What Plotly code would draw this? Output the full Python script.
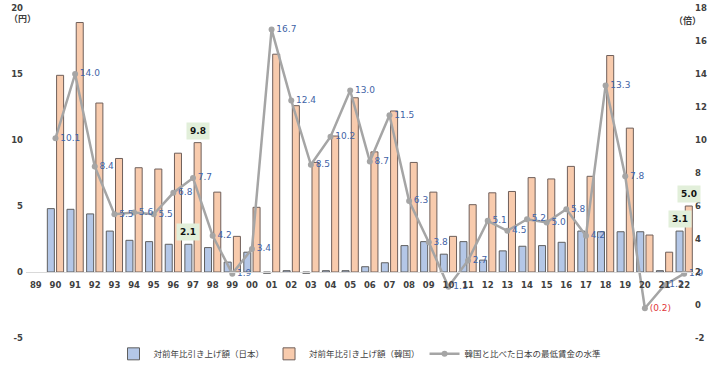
import plotly.graph_objects as go

# ---- data ----
years = ["89", "90", "91", "92", "93", "94", "95", "96", "97", "98", "99",
         "00", "01", "02", "03", "04", "05", "06", "07", "08", "09",
         "10", "11", "12", "13", "14", "15", "16", "17", "18", "19",
         "20", "21", "22"]
japan = [None, 4.8, 4.75, 4.4, 3.1, 2.4, 2.3, 2.1, 2.1, 1.85, 0.75,
         1.5, -0.1, 0.1, -0.1, 0.1, 0.1, 0.4, 0.7, 2.0, 2.3,
         1.35, 2.3, 0.9, 1.6, 1.95, 2.0, 2.25, 3.1, 3.05, 3.05,
         3.05, 0.1, 3.1]
korea = [None, 14.9, 18.9, 12.8, 8.6, 7.9, 7.8, 9.0, 9.8, 6.05, 2.7,
         4.9, 16.5, 12.6, 8.3, 10.3, 13.2, 9.1, 12.2, 8.3, 6.05,
         2.7, 5.1, 6.0, 6.1, 7.15, 7.05, 8.0, 7.25, 16.4, 10.9,
         2.8, 1.5, 5.0]
ratio = [None, 10.1, 14.0, 8.4, 5.5, 5.6, 5.5, 6.8, 7.7, 4.2, 1.9,
         3.4, 16.7, 12.4, 8.5, 10.2, 13.0, 8.7, 11.5, 6.3, 3.8,
         1.1, 2.7, 5.1, 4.5, 5.2, 5.0, 5.8, 4.2, 13.3, 7.8,
         -0.2, 1.2, 1.9]
left_ticks = [-5, 0, 5, 10, 15, 20]
right_ticks = [-2, 0, 2, 4, 6, 8, 10, 12, 14, 16, 18]
highlight_years = ["97", "97", "22", "22"]
highlight_series = ["japan", "korea", "japan", "korea"]

name_jp = "対前年比引き上げ額（日本）"
name_kr = "対前年比引き上げ額（韓国）"
name_ratio = "韓国と比べた日本の最低賃金の水準"

TICK_FONT = dict(family="DejaVu Sans", size=8.5, color="#404040", weight="bold")

ratio_text = []
ratio_color = []
for v in ratio:
    if v is None:
        ratio_text.append("")
        ratio_color.append("#3F63A6")
    elif v < 0:
        ratio_text.append("(%.1f)" % abs(v))
        ratio_color.append("#E0383A")
    else:
        ratio_text.append("%.1f" % v)
        ratio_color.append("#3F63A6")

fig = go.Figure()
fig.add_trace(go.Bar(
    x=years, y=japan, name=name_jp,
    marker=dict(color="#B4C7E7", line=dict(color="#5F5F5F", width=1)),
    yaxis="y",
))
fig.add_trace(go.Bar(
    x=years, y=korea, name=name_kr,
    marker=dict(color="#F8CBAD", line=dict(color="#6F5F5A", width=1)),
    yaxis="y",
))
fig.add_trace(go.Scatter(
    x=years, y=ratio, name=name_ratio, yaxis="y2",
    mode="lines+markers+text",
    line=dict(color="#A5A5A5", width=2.5),
    marker=dict(color="#A5A5A5", size=6),
    text=ratio_text, textposition="middle right",
    textfont=dict(family="DejaVu Sans", size=9, color=ratio_color),
    cliponaxis=False,
))

annotations = []
series_map = {"japan": (japan, -4.6), "korea": (korea, 4.6)}
for yr, s in zip(highlight_years, highlight_series):
    vals, shift = series_map[s]
    idx = years.index(yr)
    v = vals[idx]
    annotations.append(dict(
        x=idx, y=v, xref="x", yref="y", text="%.1f" % v,
        showarrow=False, xshift=shift, yanchor="bottom", yshift=3,
        bgcolor="#E2EFDA", borderpad=3,
        font=dict(family="DejaVu Sans", size=9, color="#111111", weight="bold"),
    ))
annotations.append(dict(
    x=-0.005, y=0.967, xref="paper", yref="paper", text="（円）",
    showarrow=False, xanchor="center", yanchor="middle",
    font=dict(family="Noto Sans CJK JP", size=9, color="#404040", weight="bold"),
))
annotations.append(dict(
    x=0.99, y=0.961, xref="paper", yref="paper", text="（倍）",
    showarrow=False, xanchor="center", yanchor="middle",
    font=dict(family="Noto Sans CJK JP", size=9, color="#404040", weight="bold"),
))

fig.update_layout(
    width=720, height=373,
    margin=dict(l=26, r=26, t=8, b=35, autoexpand=False),
    paper_bgcolor="white", plot_bgcolor="white",
    barmode="group", bargap=0.06, bargroupgap=0.24,
    font=dict(family="DejaVu Sans, Noto Sans CJK JP", color="#404040"),
    xaxis=dict(
        type="category", categoryorder="array", categoryarray=years,
        range=[-0.5, len(years) - 0.5], automargin=False,
        anchor="free", position=0.2,
        showline=True, linecolor="#D9D9D9", linewidth=1,
        showgrid=False, ticks="", tickfont=TICK_FONT, tickangle=0,
        ticklabelstandoff=5,
    ),
    yaxis=dict(
        range=[-5, 20], tickvals=left_ticks,
        ticktext=[str(t) for t in left_ticks],
        showgrid=False, zeroline=False, automargin=False,
        ticks="", tickfont=TICK_FONT, ticklabelstandoff=2,
    ),
    yaxis2=dict(
        range=[-2, 18], tickvals=right_ticks,
        ticktext=[str(t) for t in right_ticks],
        overlaying="y", side="right", automargin=False,
        showgrid=False, zeroline=False, ticks="", tickfont=TICK_FONT,
        ticklabelstandoff=0,
    ),
    legend=dict(
        orientation="h", x=0.5, xanchor="center", y=-0.048, yanchor="middle",
        font=dict(family="Noto Sans CJK JP", size=8.5, color="#404040"),
        bgcolor="rgba(0,0,0,0)",
    ),
    showlegend=True,
    annotations=annotations,
)

fig.write_html("out.html",
               config={"displayModeBar": False},
               post_script="document.body.style.margin='0';document.body.style.overflow='hidden';")
